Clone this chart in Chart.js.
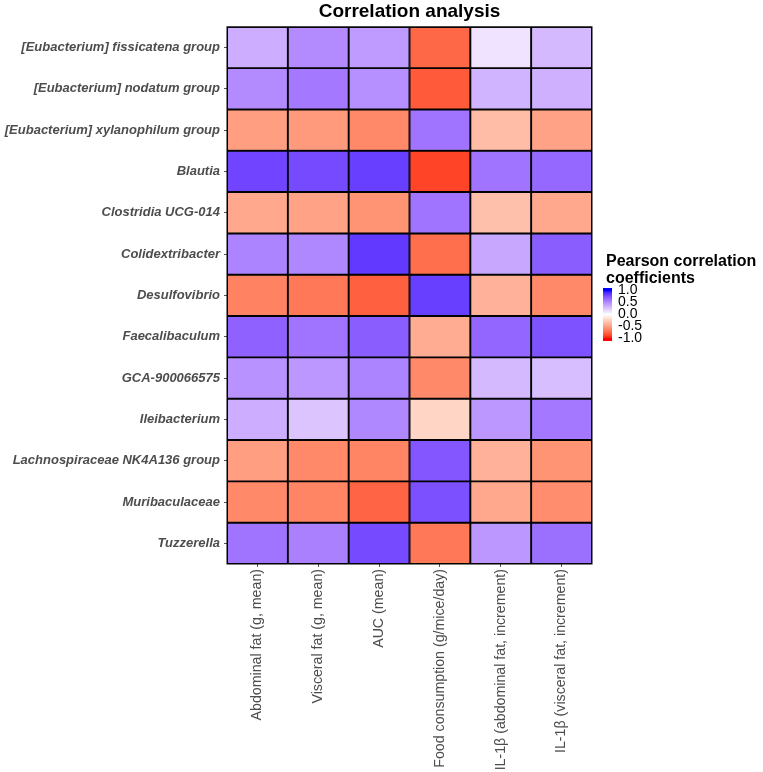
<!DOCTYPE html>
<html><head><meta charset="utf-8">
<script src="https://cdn.jsdelivr.net/npm/chart.js@4"></script>
<style>html,body{margin:0;padding:0;background:#fff}</style>
</head><body>
<canvas id="c" width="763" height="772"></canvas>
<script>
// ---- data ----
const taxa = [
  "[Eubacterium] fissicatena group",
  "[Eubacterium] nodatum group",
  "[Eubacterium] xylanophilum group",
  "Blautia",
  "Clostridia UCG-014",
  "Colidextribacter",
  "Desulfovibrio",
  "Faecalibaculum",
  "GCA-900066575",
  "Ileibacterium",
  "Lachnospiraceae NK4A136 group",
  "Muribaculaceae",
  "Tuzzerella"
];
const variables = [
  "Abdominal fat (g, mean)",
  "Visceral fat (g, mean)",
  "AUC (mean)",
  "Food consumption (g/mice/day)",
  "IL-1\u03b2 (abdominal fat, increment)",
  "IL-1\u03b2 (visceral fat, increment)"
];
const fissicatena   = [0.35, 0.50, 0.43, -0.75, 0.12, 0.30];
const nodatum       = [0.50, 0.58, 0.48, -0.80, 0.32, 0.34];
const xylanophilum  = [-0.50, -0.52, -0.60, 0.60, -0.35, -0.48];
const blautia       = [0.80, 0.78, 0.83, -0.88, 0.60, 0.65];
const clostridia    = [-0.45, -0.48, -0.55, 0.60, -0.33, -0.45];
const colidextri    = [0.53, 0.52, 0.85, -0.72, 0.38, 0.70];
const desulfovibrio = [-0.63, -0.68, -0.78, 0.83, -0.40, -0.60];
const faecalibac    = [0.68, 0.60, 0.70, -0.43, 0.66, 0.75];
const gca900066575  = [0.47, 0.45, 0.53, -0.60, 0.30, 0.28];
const ileibacterium = [0.35, 0.25, 0.52, -0.22, 0.45, 0.58];
const lachnospira   = [-0.50, -0.60, -0.62, 0.73, -0.40, -0.55];
const muribaculac   = [-0.60, -0.62, -0.76, 0.76, -0.45, -0.58];
const tuzzerella    = [0.60, 0.55, 0.78, -0.68, 0.45, 0.62];
const values = [fissicatena, nodatum, xylanophilum, blautia, clostridia, colidextri,
  desulfovibrio, faecalibac, gca900066575, ileibacterium, lachnospira, muribaculac, tuzzerella];
const legendTicks = [1.0, 0.5, 0.0, -0.5, -1.0];

// ---- colour scale (Lab interpolation red - white - blue) ----
function toLin(c){c/=255;return c<=0.04045?c/12.92:Math.pow((c+0.055)/1.055,2.4);}
function toS(c){c=Math.max(0,Math.min(1,c));return 255*(c<=0.0031308?12.92*c:1.055*Math.pow(c,1/2.4)-0.055);}
const WX=0.95047,WY=1,WZ=1.08883;
function f(t){return t>0.008856?Math.cbrt(t):7.787*t+16/116;}
function fi(t){return t>0.206893?t*t*t:(t-16/116)/7.787;}
function rgb2lab(r,g,b){
  const R=toLin(r),G=toLin(g),B=toLin(b);
  const X=(0.4124*R+0.3576*G+0.1805*B)/WX,Y=(0.2126*R+0.7152*G+0.0722*B)/WY,Z=(0.0193*R+0.1192*G+0.9505*B)/WZ;
  const fx=f(X),fy=f(Y),fz=f(Z);
  return [116*fy-16,500*(fx-fy),200*(fy-fz)];
}
function lab2rgb(L,a,b){
  const fy=(L+16)/116,fx=fy+a/500,fz=fy-b/200;
  const X=fi(fx)*WX,Y=fi(fy)*WY,Z=fi(fz)*WZ;
  const R=3.2406*X-1.5372*Y-0.4986*Z,G=-0.9689*X+1.8758*Y+0.0415*Z,B=0.0557*X-0.2040*Y+1.0570*Z;
  return [toS(R),toS(G),toS(B)];
}
const labW=rgb2lab(255,255,255),labB=rgb2lab(0,0,255),labR=rgb2lab(255,0,0);
function colorFor(v){
  const t=Math.min(1,Math.abs(v)),end=v>=0?labB:labR;
  const c=lab2rgb(labW[0]+(end[0]-labW[0])*t,labW[1]+(end[1]-labW[1])*t,labW[2]+(end[2]-labW[2])*t);
  return `rgb(${Math.round(c[0])},${Math.round(c[1])},${Math.round(c[2])})`;
}

const FONT="'Liberation Sans', Arial, Helvetica, sans-serif";

const legendPlugin={
  id:'colorbar',
  afterDatasetsDraw(chart){
    const ctx=chart.ctx,a=chart.chartArea;
    ctx.save();
    ctx.strokeStyle='#000';ctx.lineWidth=1.5;
    ctx.strokeRect(a.left+0.25,a.top+0.25,a.right-a.left-0.5,a.bottom-a.top-0.5);
    ctx.restore();
  },
  afterDraw(chart){
    const ctx=chart.ctx;
    const x0=603,w=9,yTop=290,yBot=338;
    const yOf=v=>yTop+(1-v)/2*(yBot-yTop);
    ctx.save();
    ctx.fillStyle='#000';
    ctx.font=`bold 16px ${FONT}`;
    ctx.textAlign='left';ctx.textBaseline='middle';
    ctx.fillText('Pearson correlation',606,262);
    ctx.fillText('coefficients',606,279);
    for(let y=yTop-2;y<=yBot+2;y++){
      const v=Math.max(-1,Math.min(1,1-2*(y-yTop)/(yBot-yTop)));
      ctx.fillStyle=colorFor(v);
      ctx.fillRect(x0,y,w,1);
    }
    ctx.fillStyle='#000';
    ctx.font=`14px ${FONT}`;
    legendTicks.forEach(v=>{
      ctx.fillText(v.toFixed(1),618,yOf(v));
    });
    ctx.restore();
  }
};

const datasets=taxa.map((t,r)=>({
  label:t,
  data:variables.map(()=>[r,r+1]),
  backgroundColor:values[r].map(colorFor),
  borderColor:'#000',
  borderWidth:1.3,
  borderSkipped:false,
  grouped:false,
  barPercentage:1,
  categoryPercentage:1
}));

new Chart(document.getElementById('c'),{
  type:'bar',
  data:{labels:variables,datasets},
  options:{
    responsive:false,
    animation:false,
    devicePixelRatio:1,
    layout:{padding:{left:0,right:171,top:0,bottom:0}},
    plugins:{
      legend:{display:false},
      tooltip:{enabled:false},
      title:{display:true,text:'Correlation analysis',color:'#000',fullSize:false,
        font:{family:FONT,size:19,weight:'bold'},padding:{top:0,bottom:4}}
    },
    scales:{
      x:{
        type:'category',offset:true,
        grid:{offset:false,drawOnChartArea:false,drawTicks:true,tickLength:3,color:'#555'},
        border:{display:false},
        ticks:{minRotation:90,maxRotation:90,autoSkip:false,color:'#4d4d4d',padding:2,
          font:{family:FONT,size:14.2}},
        afterFit(a){a.height=208;}
      },
      y:{
        type:'linear',min:0,max:taxa.length,reverse:true,
        afterBuildTicks(a){a.ticks=taxa.map((_,i)=>({value:i+0.5}));},
        grid:{drawOnChartArea:false,drawTicks:true,tickLength:3,color:'#555'},
        border:{display:false},
        ticks:{autoSkip:false,color:'#4d4d4d',padding:4,
          font:{family:FONT,size:13,weight:'bold',style:'italic'},
          callback:v=>taxa[Math.floor(v)]},
        afterFit(a){a.width=227;}
      }
    }
  },
  plugins:[legendPlugin]
});
</script>
</body></html>
